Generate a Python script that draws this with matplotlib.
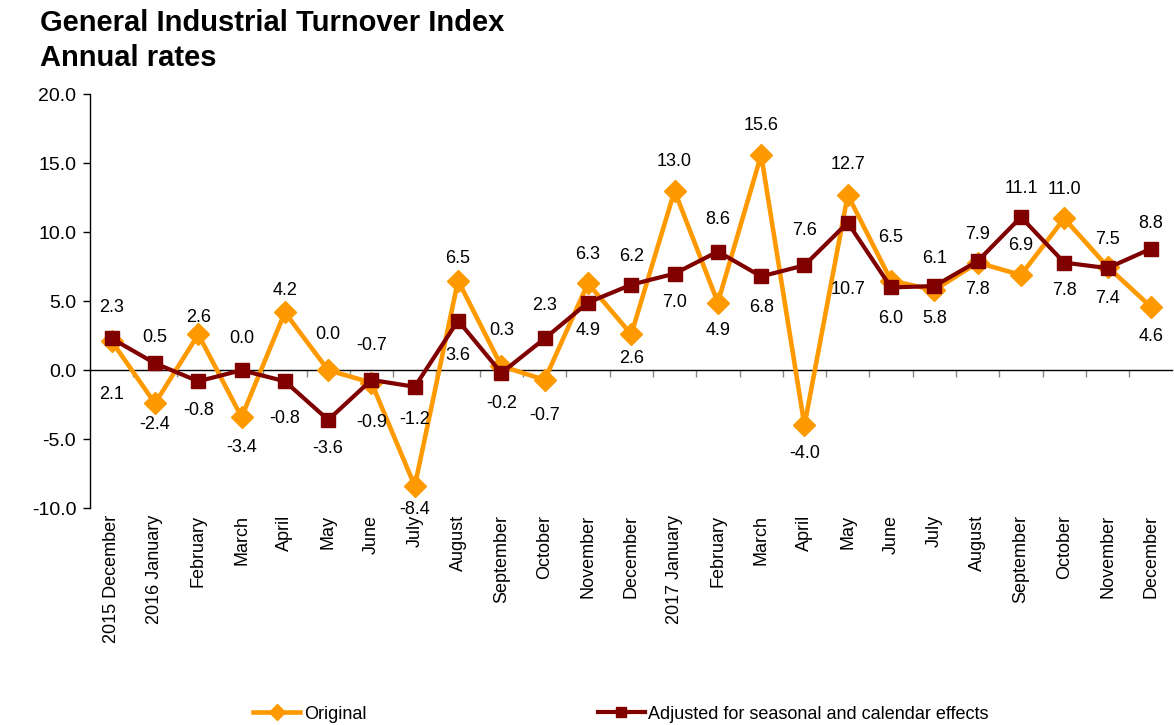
import matplotlib
matplotlib.use("Agg")
import matplotlib.pyplot as plt

plt.rcParams["font.family"] = ["Liberation Sans", "DejaVu Sans"]

months = ["2015 December", "2016 January", "February", "March", "April", "May",
          "June", "July", "August", "September", "October", "November",
          "December", "2017 January", "February", "March", "April", "May",
          "June", "July", "August", "September", "October", "November", "December"]

original = [2.1, -2.4, 2.6, -3.4, 4.2, 0.0, -0.9, -8.4, 6.5, 0.3, -0.7, 6.3,
            2.6, 13.0, 4.9, 15.6, -4.0, 12.7, 6.5, 5.8, 7.8, 6.9, 11.0, 7.5, 4.6]
adjusted = [2.3, 0.5, -0.8, 0.0, -0.8, -3.6, -0.7, -1.2, 3.6, -0.2, 2.3, 4.9,
            6.2, 7.0, 8.6, 6.8, 7.6, 10.7, 6.0, 6.1, 7.9, 11.1, 7.8, 7.4, 8.8]

# vertical label offsets in pixels (positive = above the point)
orig_off = [-53, -21, 17, -30, 22, 36, -40, -23, 22, 36, -36, 29,
            -24, 29, -28, 29, -28, 30, 43, -28, -27, 30, 29, 27, -30]
adj_off = [31, 26, -29, 32, -37, -29, 34, -33, -35, -31, 33, -28,
           28, -29, 32, -31, 35, -67, -31, 28, 27, 29, -28, -30, 25]

ORANGE = "#FF9900"
DARKRED = "#800000"

fig = plt.figure(figsize=(11.74, 7.25), dpi=100)
ax = fig.add_axes([0.0767, 0.299, 0.922, 0.571])

x = list(range(len(months)))
ax.plot(x, original, color=ORANGE, lw=3.3, marker="D", ms=11,
        label="Original", zorder=3)
ax.plot(x, adjusted, color=DARKRED, lw=3, marker="s", ms=10.5,
        label="Adjusted for seasonal and calendar effects", zorder=4)

px = 0.72  # pixels -> points at 100 dpi
for xi, v, off in zip(x, original, orig_off):
    ax.annotate(f"{v:.1f}", (xi, v), xytext=(0, off * px), textcoords="offset points",
                ha="center", va="center", fontsize=13, zorder=5)
for xi, v, off in zip(x, adjusted, adj_off):
    ax.annotate(f"{v:.1f}", (xi, v), xytext=(0, off * px), textcoords="offset points",
                ha="center", va="center", fontsize=13, zorder=5)

ax.set_xlim(-0.5, len(months) - 0.5)
ax.set_ylim(-10, 20)
yt = [-10, -5, 0, 5, 10, 15, 20]
ax.set_yticks(yt)
ax.set_yticklabels([f"{t:.1f}" for t in yt], fontsize=14)
ax.tick_params(axis="y", direction="out", length=5, width=1, pad=5)

ax.set_xticks(x)
ax.set_xticklabels(months, rotation=90, fontsize=13)
ax.tick_params(axis="x", length=0, pad=5)

for side in ["top", "right", "bottom"]:
    ax.spines[side].set_visible(False)
ax.spines["left"].set_linewidth(1)

# category axis crossing at zero
sec = ax.secondary_xaxis(1 / 3)
sec.set_xticks([i + 0.5 for i in x[:-1]])
sec.set_xticklabels([])
sec.tick_params(direction="out", length=5, width=1, colors="#888888")
sec.spines["bottom"].set_color("black")
sec.spines["bottom"].set_linewidth(1)

fig.text(0.034, 0.968, "General Industrial Turnover Index", fontsize=21,
         fontweight="bold", va="center")
fig.text(0.034, 0.920, "Annual rates", fontsize=21, fontweight="bold", va="center")

fig.legend(loc="center", bbox_to_anchor=(0.529, 0.015), ncol=2, frameon=False,
           columnspacing=12.8, handlelength=2.6, handletextpad=0.2, markerscale=0.7,
           prop={"size": 13})

fig.savefig("out.png", dpi=100)
